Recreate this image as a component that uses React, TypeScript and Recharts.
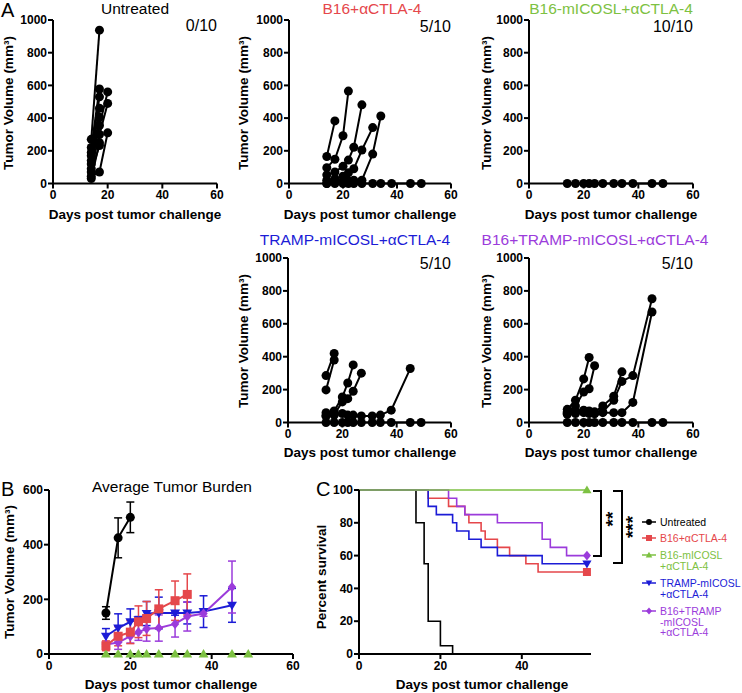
import React from 'react';
import { LineChart, Line, XAxis, YAxis, ErrorBar } from 'recharts';

const FONT = '"Liberation Sans", Arial, Helvetica, sans-serif';
const BLACK = '#000000';
const RED = '#e5474b';
const GREEN = '#7dc142';
const BLUE = '#1c1cd6';
const PURPLE = '#9b3bdb';

// measurement days (panel A + B)
const DAYS = [14, 17, 20, 22, 24, 27, 31, 34, 38, 45, 49];
const TUMOR_FREE = [0, 0, 0, 0, 0, 0, 0, 0, 0, 0, 0];

// panel A: one row per mouse, volumes at DAYS until the mouse leaves the study
const UNTREATED_MICE = [
  [270, 938],
  [220, 578],
  [190, 530],
  [170, 460],
  [140, 405],
  [120, 355, 560],
  [90, 300, 490],
  [70, 232],
  [45, 70, 310],
  [30, 250],
];
const B16_MICE = [
  [165, 383],
  [97, 148, 292, 565],
  [53, 70, 105, 143, 222, 481],
  [20, 30, 45, 65, 90, 205, 342],
  [0, 10, 15, 15, 20, 20, 180, 413],
  TUMOR_FREE,
];
const ICOSL_MICE = [TUMOR_FREE];
const TRAMP_MICE = [
  [285, 420],
  [198, 380],
  [60, 70, 155, 240, 350],
  [40, 50, 125, 145, 190, 300],
  [40, 45, 55, 45, 45, 40, 40, 45, 75, 328],
  TUMOR_FREE,
];
const B16_TRAMP_MICE = [
  [80, 135, 265, 395],
  [65, 100, 185, 205, 345],
  [55, 70, 75, 70, 65, 100, 160, 308],
  [50, 65, 60, 60, 55, 65, 135, 250, 285, 752],
  [60, 55, 70, 55, 55, 60, 60, 60, 122, 672],
  TUMOR_FREE,
];

// panel B: mean +/- sem
const AVG_UNT = [150, 425, 500];
const AVG_UNT_ERR = [23, 73, 56];
const AVG_B16 = [30, 65, 80, 118, 130, 165, 195, 218];
const AVG_B16_ERR = [18, 35, 42, 58, 62, 70, 72, 75];
const AVG_ICOSL = [0, 0, 0, 0, 0, 0, 0, 0, 0, 0, 0];
const AVG_TRAMP = [65, 95, 118, 125, 148, 150, 150, 150, 155, 178];
const AVG_TRAMP_ERR = [28, 52, 47, 12, 44, 58, 8, 40, 58, 62];
const AVG_B16_TRAMP = [35, 42, 65, 80, 92, 95, 110, 137, 148, 245];
const AVG_B16_TRAMP_ERR = [8, 25, 25, 30, 45, 48, 48, 53, 10, 95];

// panel C: Kaplan-Meier steps
const SURV_UNT_DAYS = [0, 14, 16, 17, 20, 23];
const SURV_UNT = [100, 80, 55, 20, 5, 0];
const SURV_B16_DAYS = [0, 17, 22, 26, 27, 30, 31, 34, 37, 41, 44, 56];
const SURV_B16 = [100, 95, 90, 85, 80, 75, 70, 65, 60, 55, 50, 50];
const SURV_ICOSL_DAYS = [0, 56];
const SURV_ICOSL = [100, 100];
const SURV_TRAMP_DAYS = [0, 17, 19, 23, 24, 27, 30, 34, 45, 56];
const SURV_TRAMP = [100, 90, 85, 80, 75, 70, 65, 60, 55, 55];
const SURV_B16_TRAMP_DAYS = [0, 22, 24, 26, 34, 45, 47, 51, 56];
const SURV_B16_TRAMP = [100, 95, 90, 85, 80, 70, 65, 60, 60];

type Shape = 'circle' | 'square' | 'triangle' | 'down' | 'diamond';

function drawShape(shape: Shape, cx: number, cy: number, s: number, color: string, key?: React.Key) {
  switch (shape) {
    case 'square':
      return <rect key={key} x={cx - s} y={cy - s} width={2 * s} height={2 * s} fill={color} />;
    case 'triangle':
      return (
        <polygon
          key={key}
          points={`${cx},${cy - s * 1.1} ${cx - s * 1.1},${cy + s * 0.8} ${cx + s * 1.1},${cy + s * 0.8}`}
          fill={color}
        />
      );
    case 'down':
      return (
        <polygon
          key={key}
          points={`${cx},${cy + s * 1.1} ${cx - s * 1.1},${cy - s * 0.8} ${cx + s * 1.1},${cy - s * 0.8}`}
          fill={color}
        />
      );
    case 'diamond':
      return (
        <polygon
          key={key}
          points={`${cx},${cy - s * 1.2} ${cx + s},${cy} ${cx},${cy + s * 1.2} ${cx - s},${cy}`}
          fill={color}
        />
      );
    default:
      return <circle key={key} cx={cx} cy={cy} r={s} fill={color} />;
  }
}

const dotOf = (shape: Shape, color: string, s: number, onlyIndex?: number) => (p: any) => {
  const key = `d-${p.index}`;
  if (p.cx == null || p.cy == null || (onlyIndex != null && p.index !== onlyIndex)) return <g key={key} />;
  return drawShape(shape, p.cx, p.cy, s, color, key);
};

const tickStyle = { fontSize: 12, fontWeight: 'bold', fill: '#000', fontFamily: FONT };
const axisLine = { stroke: '#000', strokeWidth: 2 };

interface FrameProps {
  x0: number;
  y0: number;
  x1: number;
  y1: number;
  xMax: number;
  xTicks: number[];
  yMax: number;
  yTicks: number[];
  children: React.ReactNode;
}

function Frame({ x0, y0, x1, y1, xMax, xTicks, yMax, yTicks, children }: FrameProps) {
  const ML = 60;
  const MT = 12;
  const MR = 15;
  const XH = 40;
  return (
    <div style={{ position: 'absolute', left: x0 - ML, top: y0 - MT }}>
      <LineChart width={ML + (x1 - x0) + MR} height={MT + (y1 - y0) + XH} margin={{ top: MT, right: MR, left: 0, bottom: 0 }}>
        <XAxis
          type="number"
          dataKey="day"
          domain={[0, xMax]}
          ticks={xTicks}
          interval={0}
          height={XH}
          tickSize={5}
          tickMargin={2}
          axisLine={axisLine}
          tickLine={axisLine}
          tick={tickStyle}
        />
        <YAxis
          type="number"
          domain={[0, yMax]}
          ticks={yTicks}
          interval={0}
          width={ML}
          tickSize={5}
          tickMargin={1}
          axisLine={axisLine}
          tickLine={axisLine}
          tick={tickStyle}
        />
        {children}
      </LineChart>
    </div>
  );
}

const mouseLines = (mice: number[][], name: string) =>
  mice.map((vals, i) => (
    <Line
      key={`${name}-${i}`}
      data={vals.map((v, j) => ({ day: DAYS[j], v }))}
      dataKey="v"
      stroke={BLACK}
      strokeWidth={2}
      dot={dotOf('circle', BLACK, 4.5)}
      activeDot={false}
      isAnimationActive={false}
    />
  ));

const avgLine = (vals: number[], errs: number[] | null, color: string, shape: Shape, s: number, name: string) => (
  <Line
    key={name}
    data={vals.map((v, j) => ({ day: DAYS[j], v, e: errs ? errs[j] : 0 }))}
    dataKey="v"
    stroke={color}
    strokeWidth={2}
    dot={dotOf(shape, color, s)}
    activeDot={false}
    isAnimationActive={false}
  >
    {errs && <ErrorBar dataKey="e" direction="y" width={4} stroke={color} strokeWidth={1.5} />}
  </Line>
);

const survLine = (days: number[], vals: number[], color: string, shape: Shape | null, s: number, name: string) => (
  <Line
    key={name}
    data={days.map((d, j) => ({ day: d, v: vals[j] }))}
    dataKey="v"
    type="stepAfter"
    stroke={color}
    strokeWidth={1.6}
    dot={shape ? dotOf(shape, color, s, days.length - 1) : false}
    activeDot={false}
    isAnimationActive={false}
  />
);

interface TxtProps {
  x: number;
  y: number;
  size?: number;
  weight?: string;
  color?: string;
  align?: 'center' | 'right' | 'left';
  children: React.ReactNode;
}

function Txt({ x, y, size = 13.5, weight = 'bold', color = '#000', align = 'center', children }: TxtProps) {
  const tx = align === 'center' ? '-50%' : align === 'right' ? '-100%' : '0';
  return (
    <div
      style={{
        position: 'absolute',
        left: x,
        top: y,
        transform: `translate(${tx}, -50%)`,
        whiteSpace: 'nowrap',
        fontSize: size,
        fontWeight: weight as any,
        color,
        lineHeight: 1,
        fontFamily: FONT,
      }}
    >
      {children}
    </div>
  );
}

function RotTxt({ x, y, size = 13.5, children }: { x: number; y: number; size?: number; children: React.ReactNode }) {
  return (
    <div
      style={{
        position: 'absolute',
        left: x,
        top: y,
        transform: 'translate(-50%, -50%) rotate(-90deg)',
        whiteSpace: 'nowrap',
        fontSize: size,
        fontWeight: 'bold',
        lineHeight: 1,
        fontFamily: FONT,
      }}
    >
      {children}
    </div>
  );
}

const LEGEND = [
  { lines: ['Untreated'], color: BLACK, shape: 'circle' as Shape, y: 522 },
  { lines: ['B16+αCTLA-4'], color: RED, shape: 'square' as Shape, y: 538 },
  { lines: ['B16-mICOSL', '+αCTLA-4'], color: GREEN, shape: 'triangle' as Shape, y: 555 },
  { lines: ['TRAMP-mICOSL', '+αCTLA-4'], color: BLUE, shape: 'down' as Shape, y: 583 },
  { lines: ['B16+TRAMP', '-mICOSL', '+αCTLA-4'], color: PURPLE, shape: 'diamond' as Shape, y: 611 },
];

const VOL = 'Tumor Volume (mm³)';
const DAYS_LABEL = 'Days post tumor challenge';

export default function App() {
  const volTicks = [0, 200, 400, 600, 800, 1000];
  const dayTicks = [0, 20, 40, 60];
  return (
    <div
      style={{
        position: 'absolute',
        left: 0,
        top: 0,
        width: 742,
        height: 693,
        background: '#fff',
        fontFamily: FONT,
        overflow: 'hidden',
      }}
    >
      {/* panel A, row 1 */}
      <Frame x0={53} y0={20} x1={217} y1={183.5} xMax={60} xTicks={dayTicks} yMax={1000} yTicks={volTicks}>
        {mouseLines(UNTREATED_MICE, 'unt')}
      </Frame>
      <Frame x0={289} y0={20} x1={451} y1={183.5} xMax={60} xTicks={dayTicks} yMax={1000} yTicks={volTicks}>
        {mouseLines(B16_MICE, 'b16')}
      </Frame>
      <Frame x0={529} y0={20} x1={693} y1={183.5} xMax={60} xTicks={dayTicks} yMax={1000} yTicks={volTicks}>
        {mouseLines(ICOSL_MICE, 'icosl')}
      </Frame>
      {/* panel A, row 2 */}
      <Frame x0={288} y0={258} x1={451} y1={422.5} xMax={60} xTicks={dayTicks} yMax={1000} yTicks={volTicks}>
        {mouseLines(TRAMP_MICE, 'tramp')}
      </Frame>
      <Frame x0={529} y0={258} x1={693} y1={422.5} xMax={60} xTicks={dayTicks} yMax={1000} yTicks={volTicks}>
        {mouseLines(B16_TRAMP_MICE, 'b16tramp')}
      </Frame>
      {/* panel B */}
      <Frame x0={49} y0={490} x1={293} y1={654} xMax={60} xTicks={dayTicks} yMax={600} yTicks={[0, 200, 400, 600]}>
        {[
          avgLine(AVG_ICOSL, null, GREEN, 'triangle', 4.5, 'g'),
          avgLine(AVG_TRAMP, AVG_TRAMP_ERR, BLUE, 'down', 4.5, 'bl'),
          avgLine(AVG_B16_TRAMP, AVG_B16_TRAMP_ERR, PURPLE, 'diamond', 4.2, 'pu'),
          avgLine(AVG_B16, AVG_B16_ERR, RED, 'square', 4.5, 'r'),
          avgLine(AVG_UNT, AVG_UNT_ERR, BLACK, 'circle', 4.5, 'k'),
        ]}
      </Frame>
      {/* panel C */}
      <Frame x0={359} y0={490} x1={591} y1={654} xMax={57} xTicks={[0, 20, 40]} yMax={100} yTicks={[0, 20, 40, 60, 80, 100]}>
        {[
          survLine(SURV_UNT_DAYS, SURV_UNT, BLACK, null, 4, 'k'),
          survLine(SURV_B16_DAYS, SURV_B16, RED, 'square', 4, 'r'),
          survLine(SURV_TRAMP_DAYS, SURV_TRAMP, BLUE, 'down', 4.2, 'bl'),
          survLine(SURV_B16_TRAMP_DAYS, SURV_B16_TRAMP, PURPLE, 'diamond', 4, 'pu'),
          survLine(SURV_ICOSL_DAYS, SURV_ICOSL, GREEN, 'triangle', 4.2, 'g'),
        ]}
      </Frame>

      {/* titles */}
      <Txt x={135} y={9} size={15.5} weight="normal">Untreated</Txt>
      <Txt x={372} y={9} size={15.5} weight="normal" color={RED}>B16+αCTLA-4</Txt>
      <Txt x={611} y={9} size={15.5} weight="normal" color={GREEN}>B16-mICOSL+αCTLA-4</Txt>
      <Txt x={355} y={240} size={15.5} weight="normal" color={BLUE}>TRAMP-mICOSL+αCTLA-4</Txt>
      <Txt x={595} y={240} size={15.5} weight="normal" color={PURPLE}>B16+TRAMP-mICOSL+αCTLA-4</Txt>
      <Txt x={172} y={487} size={15.5} weight="normal">Average Tumor Burden</Txt>

      <Txt x={217} y={26} size={16} weight="normal" align="right">0/10</Txt>
      <Txt x={451} y={27} size={16} weight="normal" align="right">5/10</Txt>
      <Txt x={693} y={27} size={16} weight="normal" align="right">10/10</Txt>
      <Txt x={451} y={264} size={16} weight="normal" align="right">5/10</Txt>
      <Txt x={693} y={264} size={16} weight="normal" align="right">5/10</Txt>

      <Txt x={1} y={10} size={20} weight="normal" align="left">A</Txt>
      <Txt x={1} y={489} size={20} weight="normal" align="left">B</Txt>
      <Txt x={316} y={489} size={20} weight="normal" align="left">C</Txt>

      {/* axis titles */}
      <RotTxt x={9} y={103}>{VOL}</RotTxt>
      <RotTxt x={244} y={103}>{VOL}</RotTxt>
      <RotTxt x={487} y={103}>{VOL}</RotTxt>
      <RotTxt x={244} y={341}>{VOL}</RotTxt>
      <RotTxt x={487} y={341}>{VOL}</RotTxt>
      <RotTxt x={10} y={572}>{VOL}</RotTxt>
      <RotTxt x={322} y={577}>Percent survival</RotTxt>

      <Txt x={135} y={215}>{DAYS_LABEL}</Txt>
      <Txt x={370} y={215}>{DAYS_LABEL}</Txt>
      <Txt x={611} y={215}>{DAYS_LABEL}</Txt>
      <Txt x={370} y={453}>{DAYS_LABEL}</Txt>
      <Txt x={611} y={453}>{DAYS_LABEL}</Txt>
      <Txt x={171} y={685}>{DAYS_LABEL}</Txt>
      <Txt x={482} y={685}>{DAYS_LABEL}</Txt>

      {/* significance brackets */}
      <div
        style={{
          position: 'absolute',
          left: 593,
          top: 490,
          width: 9,
          height: 67,
          boxSizing: 'border-box',
          borderTop: '2px solid #000',
          borderRight: '2px solid #000',
          borderBottom: '2px solid #000',
        }}
      />
      <div
        style={{
          position: 'absolute',
          left: 613,
          top: 490,
          width: 10,
          height: 74,
          boxSizing: 'border-box',
          borderTop: '2px solid #000',
          borderRight: '2px solid #000',
          borderBottom: '2px solid #000',
        }}
      />
      <RotTxt x={612} y={519} size={19}>**</RotTxt>
      <RotTxt x={632} y={527} size={19}>***</RotTxt>

      {/* legend */}
      {LEGEND.map((item) => (
        <div key={item.lines[0]}>
          <svg style={{ position: 'absolute', left: 641, top: item.y - 5 }} width={16} height={10}>
            <line x1={1} y1={5} x2={15} y2={5} stroke={item.color} strokeWidth={1.5} />
            {drawShape(item.shape, 8, 5, 3, item.color)}
          </svg>
          {item.lines.map((t, k) => (
            <Txt key={t} x={660} y={item.y + k * 10.5} size={10.5} weight="normal" color={item.color} align="left">
              {t}
            </Txt>
          ))}
        </div>
      ))}
    </div>
  );
}
